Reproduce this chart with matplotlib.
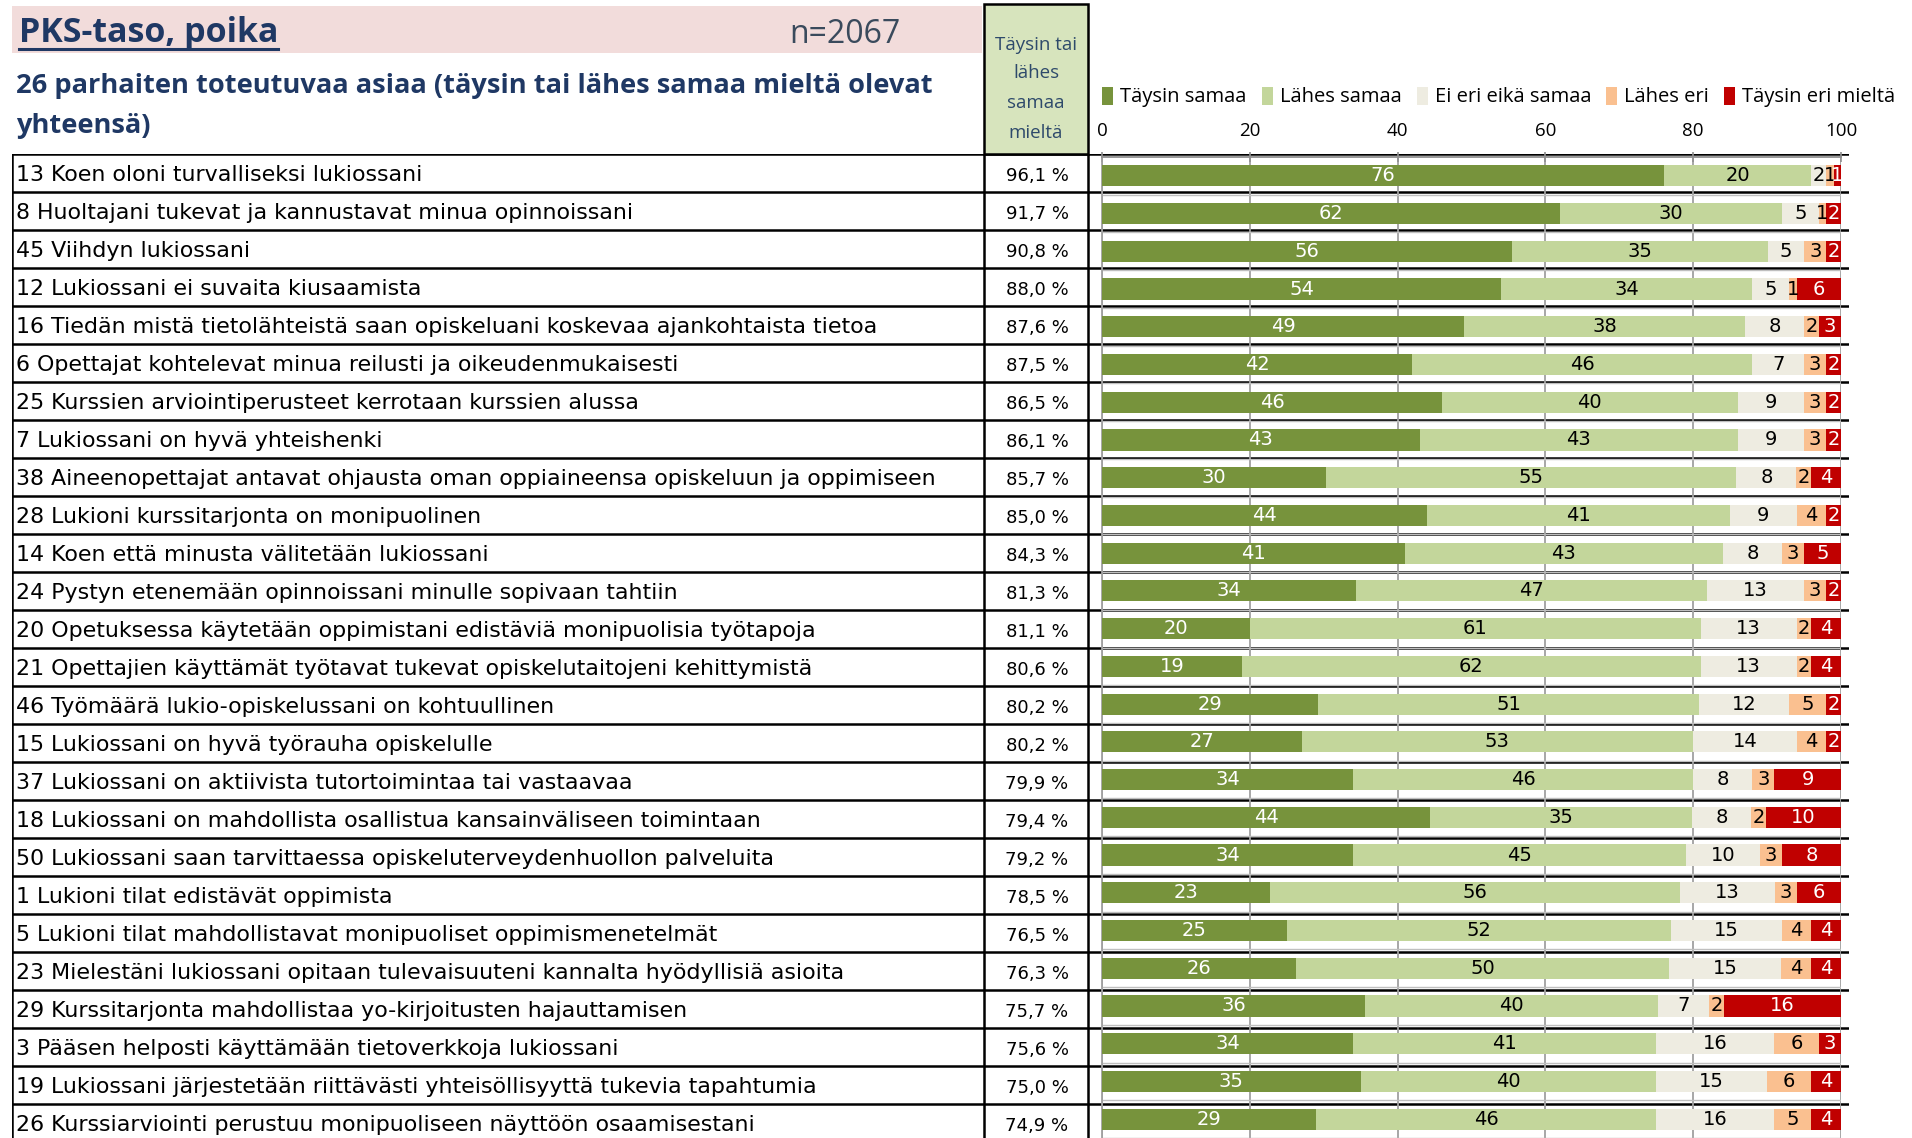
import numpy as np
import matplotlib
matplotlib.use("Agg")
import matplotlib.pyplot as plt
from matplotlib.patches import Rectangle
from matplotlib.lines import Line2D

# ---------------- data ----------------
statements = [
    "13 Koen oloni turvalliseksi lukiossani",
    "8 Huoltajani tukevat ja kannustavat minua opinnoissani",
    "45 Viihdyn lukiossani",
    "12 Lukiossani ei suvaita kiusaamista",
    "16 Tiedän mistä tietolähteistä saan opiskeluani koskevaa ajankohtaista tietoa",
    "6 Opettajat kohtelevat minua reilusti ja oikeudenmukaisesti",
    "25 Kurssien arviointiperusteet kerrotaan kurssien alussa",
    "7 Lukiossani on hyvä yhteishenki",
    "38 Aineenopettajat antavat ohjausta oman oppiaineensa opiskeluun ja oppimiseen",
    "28 Lukioni kurssitarjonta on monipuolinen",
    "14 Koen että minusta välitetään lukiossani",
    "24 Pystyn etenemään opinnoissani minulle sopivaan tahtiin",
    "20 Opetuksessa käytetään oppimistani edistäviä monipuolisia työtapoja",
    "21 Opettajien käyttämät työtavat tukevat opiskelutaitojeni kehittymistä",
    "46 Työmäärä lukio-opiskelussani on kohtuullinen",
    "15 Lukiossani on hyvä työrauha opiskelulle",
    "37 Lukiossani on aktiivista tutortoimintaa tai vastaavaa",
    "18 Lukiossani on mahdollista osallistua kansainväliseen toimintaan",
    "50 Lukiossani saan tarvittaessa opiskeluterveydenhuollon palveluita",
    "1 Lukioni tilat edistävät oppimista",
    "5 Lukioni tilat mahdollistavat monipuoliset oppimismenetelmät",
    "23 Mielestäni lukiossani opitaan tulevaisuuteni kannalta hyödyllisiä asioita",
    "29 Kurssitarjonta mahdollistaa yo-kirjoitusten hajauttamisen",
    "3 Pääsen helposti käyttämään tietoverkkoja lukiossani",
    "19 Lukiossani järjestetään riittävästi yhteisöllisyyttä tukevia tapahtumia",
    "26 Kurssiarviointi perustuu monipuoliseen näyttöön osaamisestani",
]
agree_total = [96.1, 91.7, 90.8, 88.0, 87.6, 87.5, 86.5, 86.1, 85.7, 85.0, 84.3, 81.3, 81.1,
               80.6, 80.2, 80.2, 79.9, 79.4, 79.2, 78.5, 76.5, 76.3, 75.7, 75.6, 75.0, 74.9]
taysin_samaa = [76, 62, 56, 54, 49, 42, 46, 43, 30, 44, 41, 34, 20, 19, 29, 27, 34, 44, 34, 23, 25, 26, 36, 34, 35, 29]
lahes_samaa  = [20, 30, 35, 34, 38, 46, 40, 43, 55, 41, 43, 47, 61, 62, 51, 53, 46, 35, 45, 56, 52, 50, 40, 41, 40, 46]
ei_eri       = [2, 5, 5, 5, 8, 7, 9, 9, 8, 9, 8, 13, 13, 13, 12, 14, 8, 8, 10, 13, 15, 15, 7, 16, 15, 16]
lahes_eri    = [1, 1, 3, 1, 2, 3, 3, 3, 2, 4, 3, 3, 2, 2, 5, 4, 3, 2, 3, 3, 4, 4, 2, 6, 6, 5]
taysin_eri   = [1, 2, 2, 6, 3, 2, 2, 2, 4, 2, 5, 2, 4, 4, 2, 2, 9, 10, 8, 6, 4, 4, 16, 3, 4, 4]
series_names = ["Täysin samaa", "Lähes samaa", "Ei eri eikä samaa", "Lähes eri", "Täysin eri mieltä"]
xticks = [0, 20, 40, 60, 80, 100]

colors = ["#77933C", "#C3D69B", "#EEECE1", "#FAC090", "#C00000"]
text_colors = ["white", "black", "black", "black", "white"]

# ---------------- figure ----------------
W, H = 1912, 1138
fig = plt.figure(figsize=(W / 100, H / 100), dpi=100)
fig.patch.set_facecolor("white")

def fy(py):
    return 1 - py / H

def fx(px):
    return px / W

NAVY = "#1F3864"

# header: pink box
fig.add_artist(Rectangle((fx(12), fy(53)), fx(982) - fx(12), fy(6) - fy(53),
                         transform=fig.transFigure, facecolor="#F2DCDB", edgecolor="none", zorder=0))
title = fig.text(fx(19), fy(42), "PKS-taso, poika", fontsize=24.5, fontweight="bold",
                 family="Open Sans", color=NAVY, va="baseline", ha="left")
fig.text(fx(789), fy(43), "n=2067", fontsize=23, family="Open Sans", color="#3A4A5C",
         va="baseline", ha="left")
fig.text(fx(16), fy(93), "26 parhaiten toteutuvaa asiaa (täysin tai lähes samaa mieltä olevat",
         fontsize=19.6, fontweight="bold", family="Open Sans", color=NAVY, va="baseline")
fig.text(fx(16), fy(133), "yhteensä)", fontsize=19.6, fontweight="bold", family="Open Sans",
         color=NAVY, va="baseline")

# green column header
fig.add_artist(Rectangle((fx(984), fy(154)), fx(1088) - fx(984), fy(4) - fy(154),
                         transform=fig.transFigure, facecolor="#D7E4BD", edgecolor="black",
                         linewidth=1.8, zorder=1))
for txt, yc in zip(["Täysin tai", "lähes", "samaa", "mieltä"], [45, 73, 103, 133]):
    fig.text(fx(1036), fy(yc), txt, fontsize=13.5, family="Open Sans", color="#2E4A6B",
             ha="center", va="center", zorder=2)

n = len(statements)

# ---------------- table axes ----------------
ax_t = fig.add_axes([fx(12), 0, fx(1849) - fx(12), fy(154)])
ax_t.set_xlim(12, 1849)
ax_t.set_ylim(-0.5 + (H - 154) / 38.0, -0.5)
ax_t.axis("off")
for i in range(n + 1):
    ax_t.axhline(i - 0.5, color="black", lw=1.8, zorder=1)
for xv in [12, 984, 1088]:
    ax_t.axvline(xv, color="black", lw=1.8, zorder=1)
for i, (lab, pct) in enumerate(zip(statements, agree_total)):
    ax_t.text(16, i + 0.2, lab, fontsize=15.9, ha="left", va="baseline", color="black")
    ax_t.text(1037, i + 0.2, f"{pct:.1f} %".replace(".", ","), fontsize=13, ha="center",
              va="baseline", color="black")

# ---------------- bar axes ----------------
ax = fig.add_axes([fx(1102), 0, fx(1841) - fx(1102), fy(157)])
ax.patch.set_visible(False)
band = 37.86
ax.set_ylim(-0.5 + (H - 157) / band, -0.5)
ax.set_xlim(0, 100)

data = np.array([taysin_samaa, lahes_samaa, ei_eri, lahes_eri, taysin_eri], dtype=float)
scaled = data / data.sum(axis=0) * 100
left = np.zeros(n)
ypos = np.arange(n)
containers = []
for k in range(5):
    c = ax.barh(ypos, scaled[k], left=left, height=0.56, color=colors[k],
                label=series_names[k], zorder=3)
    ax.bar_label(c, labels=[str(int(v)) for v in data[k]], label_type="center",
                 color=text_colors[k], fontsize=14, zorder=4)
    containers.append(c)
    left += scaled[k]

ax.xaxis.tick_top()
ax.set_xticks(xticks)
ax.set_xticklabels([str(t) for t in xticks], fontsize=13.5, family="Open Sans")
ax.tick_params(axis="x", which="major", direction="inout", length=7, width=1.2,
               color="#909090", pad=9)
ax.set_yticks([])
ax.set_yticks(np.arange(n) + 0.5, minor=True)
ax.tick_params(axis="y", which="minor", length=0)
ax.grid(axis="x", color="#A0A0A0", lw=1.3, zorder=0)
ax.grid(axis="y", which="minor", color="#BFBFBF", lw=1.0, zorder=0)
for s in ["right", "bottom"]:
    ax.spines[s].set_visible(False)
ax.spines["top"].set_color("#909090")
ax.spines["top"].set_linewidth(1.3)
ax.spines["left"].set_color("#A0A0A0")
ax.spines["left"].set_linewidth(1.3)

leg = ax.legend(handles=containers, ncol=5, loc="center left",
                bbox_to_anchor=(fx(1102), fy(97)), bbox_transform=fig.transFigure,
                frameon=False, prop={"family": "Open Sans", "size": 14.5},
                handlelength=0.55, handleheight=1.0, handletextpad=0.35,
                columnspacing=0.75, borderpad=0, borderaxespad=0)

# underline the title
fig.canvas.draw()
bb = title.get_window_extent(renderer=fig.canvas.get_renderer())
fig.add_artist(Line2D([bb.x0 / W, bb.x1 / W], [fy(49), fy(49)], transform=fig.transFigure,
                      color=NAVY, lw=2.2))

fig.savefig("out.png", dpi=100)
